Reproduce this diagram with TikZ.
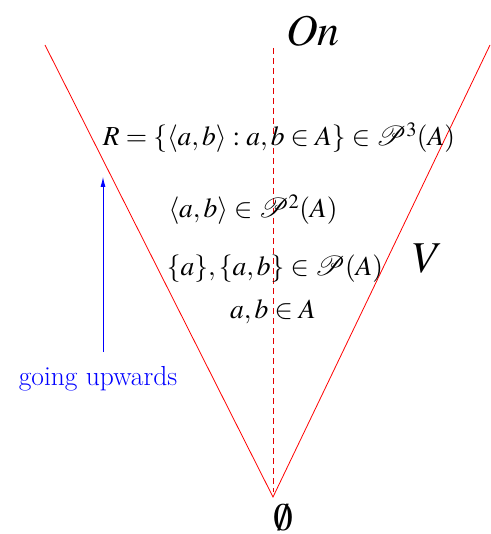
\documentclass[tikz,border=0pt]{standalone}
\usepackage{mathptmx}
\usetikzlibrary{arrows.meta}
\tikzset{
  cone/.style={red, line width=0.8pt},
  axisline/.style={red!90!black, line width=0.8pt, dash pattern=on 6pt off 4pt},
  upar/.style={blue, line width=0.8pt, -{Latex[length=10pt,width=5pt]}},
  lbl/.style={inner sep=0pt, anchor=base},
  mtxt/.style={font=\fontsize{27.5}{32}\selectfont},
  btxt/.style={font=\fontsize{44}{50}\selectfont},
  etxt/.style={font=\fontsize{39}{44}\selectfont},
}
\begin{document}
\begin{tikzpicture}[x=1pt,y=-1pt]
\useasboundingbox (0,0) rectangle (490,534);
\coordinate (apex) at (273,497);
\coordinate (ltop) at (45,45);
\coordinate (rtop) at (490,45);
\coordinate (atop) at (273,48);
\coordinate (abot) at (273,492);
\draw[cone] (ltop) -- (apex) -- (rtop);
\draw[axisline] (atop) -- (abot);
\coordinate (arrs) at (103,352);
\coordinate (arre) at (103,177);
\draw[upar] (arrs) -- (arre);
\node[lbl, btxt] (on) at (313,46) {$On$};
\node[lbl, mtxt] (r3) at (279,146) {$R=\{\langle a,b\rangle : a,b\in A\}\in\mathcal{P}^3(A)$};
\node[lbl, mtxt] (p2) at (253,218) {$\langle a,b\rangle\in\mathcal{P}^2(A)$};
\node[lbl, mtxt] (p1) at (275,275) {$\{a\},\{a,b\}\in\mathcal{P}(A)$};
\node[lbl, mtxt] (p0) at (273,318) {$a,b\in A$};
\node[lbl, btxt] (v) at (428,272) {$V$};
\node[lbl, etxt] (empty) at (283,530) {$\emptyset$};
\node[lbl, mtxt, blue] (go) at (98,385) {going upwards};
\end{tikzpicture}
\end{document}
